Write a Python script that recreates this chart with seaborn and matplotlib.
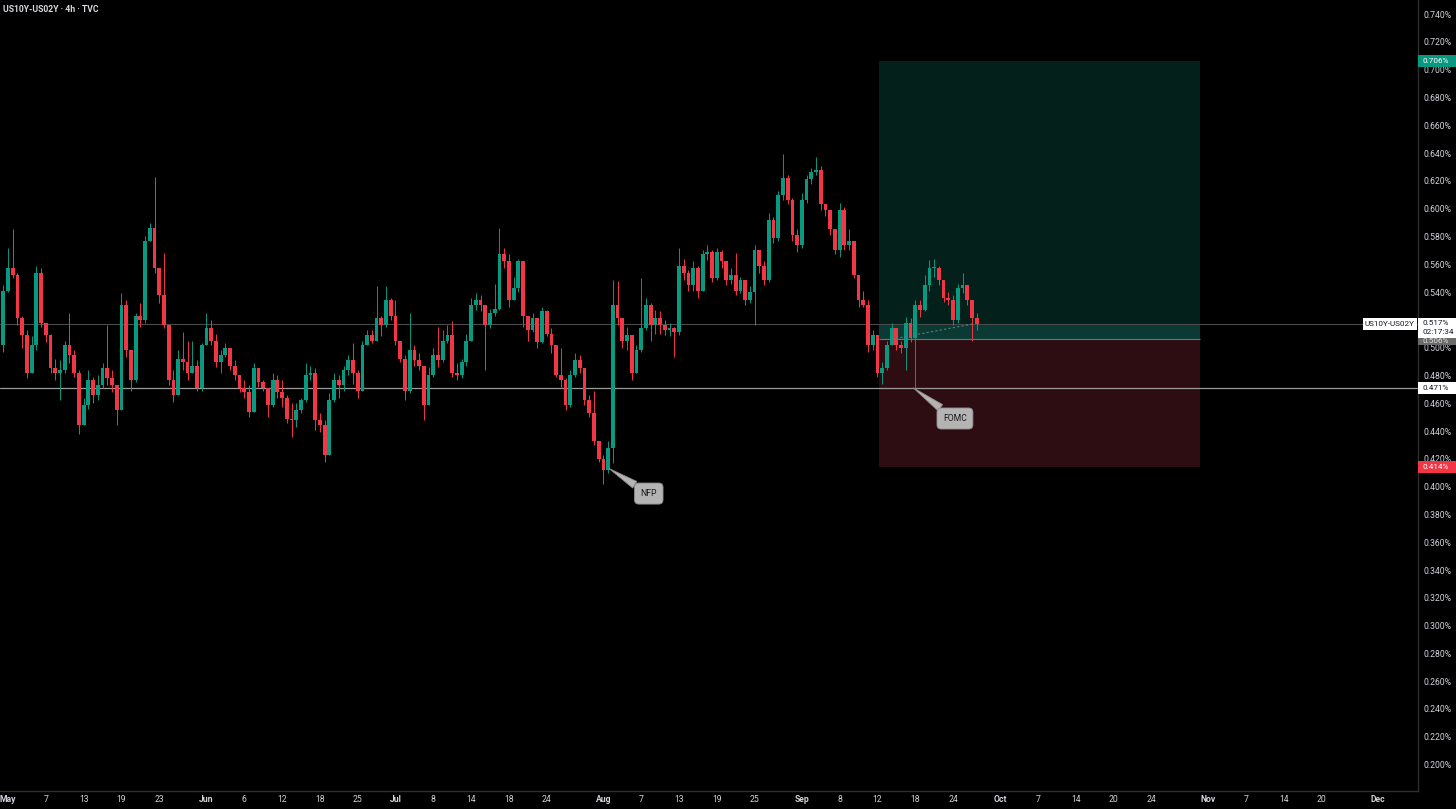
# plot.py
# ─────────────────────────────────────────────
# US10Y-US02Y spread, 4h candles (merged to half-day bars),
# drawn TradingView-style on a black background.
# ─────────────────────────────────────────────

import numpy as np
import pandas as pd
import matplotlib
matplotlib.use("Agg")                          # no display needed
import matplotlib.pyplot as plt
import matplotlib.transforms as mtransforms
from matplotlib.patches import Rectangle
import seaborn as sns

# ── 1. Data (thousandths of a percent) ──────────────────────────────────
first_open = 502
close_k = [541, 557, 552, 521, 509, 482, 502, 554, 518, 509,
           485, 482, 484, 502, 495, 482, 444, 459, 477, 466,
           473, 485, 478, 473, 455, 531, 498, 477, 523, 520,
           577, 586, 557, 538, 516, 477, 466, 492, 490, 482,
           487, 471, 502, 514, 505, 490, 495, 500, 487, 480,
           471, 468, 454, 485, 475, 471, 459, 477, 468, 464,
           449, 448, 455, 462, 480, 482, 448, 444, 423, 462,
           477, 473, 484, 491, 482, 469, 502, 509, 505, 521,
           516, 534, 523, 505, 492, 469, 498, 491, 487, 459,
           480, 495, 491, 505, 509, 482, 480, 490, 505, 531,
           534, 531, 516, 525, 528, 567, 562, 534, 543, 562,
           523, 513, 521, 504, 526, 510, 502, 480, 477, 459,
           480, 491, 485, 462, 453, 433, 420, 412, 428, 531,
           521, 505, 509, 482, 498, 514, 531, 516, 521, 516,
           513, 514, 511, 559, 554, 545, 557, 541, 567, 569,
           550, 569, 562, 549, 552, 541, 549, 534, 540, 570,
           559, 549, 592, 579, 610, 622, 606, 581, 574, 606,
           621, 626, 628, 603, 599, 585, 570, 599, 574, 577,
           552, 534, 531, 502, 509, 482, 485, 502, 514, 502,
           500, 518, 507, 531, 527, 545, 557, 557, 549, 536,
           534, 520, 543, 545, 534, 521, 517]
high_k = [545, 572, 585, 554, 523, 513, 508, 559, 557, 518,
          510, 492, 491, 505, 525, 498, 484, 464, 484, 479,
          480, 489, 516, 484, 466, 539, 534, 498, 525, 532,
          580, 590, 623, 557, 568, 516, 484, 498, 511, 505,
          505, 491, 503, 525, 520, 510, 498, 503, 496, 491,
          480, 477, 473, 489, 484, 477, 471, 482, 480, 477,
          466, 460, 460, 464, 489, 487, 485, 453, 448, 467,
          482, 480, 487, 495, 503, 484, 505, 513, 513, 544,
          523, 544, 536, 534, 505, 495, 525, 502, 496, 487,
          486, 500, 515, 513, 516, 519, 489, 492, 510, 536,
          539, 538, 531, 528, 546, 586, 572, 567, 551, 564,
          562, 523, 525, 521, 529, 527, 514, 502, 500, 478,
          484, 496, 495, 485, 466, 469, 433, 423, 433, 549,
          548, 521, 515, 509, 502, 550, 536, 532, 527, 526,
          520, 518, 515, 572, 564, 556, 562, 559, 570, 574,
          570, 572, 570, 562, 557, 568, 551, 549, 544, 574,
          569, 562, 597, 594, 613, 639, 624, 608, 585, 611,
          624, 629, 637, 631, 603, 599, 579, 604, 601, 585,
          577, 552, 541, 534, 513, 505, 490, 505, 518, 513,
          505, 522, 521, 534, 534, 552, 563, 564, 559, 549,
          540, 538, 546, 554, 545, 531, 525]
low_k = [497, 540, 550, 516, 500, 478, 484, 498, 515, 504,
         482, 477, 462, 482, 489, 479, 438, 444, 456, 460,
         462, 471, 473, 468, 444, 457, 493, 469, 475, 515,
         518, 577, 554, 532, 514, 473, 461, 466, 484, 477,
         482, 469, 469, 502, 502, 486, 482, 493, 484, 477,
         468, 464, 450, 454, 472, 469, 450, 457, 464, 457,
         446, 436, 443, 453, 461, 477, 441, 439, 418, 423,
         461, 464, 469, 480, 474, 464, 469, 502, 503, 505,
         508, 515, 520, 502, 490, 462, 467, 487, 484, 448,
         462, 479, 486, 490, 503, 479, 477, 478, 487, 505,
         527, 526, 484, 514, 523, 527, 557, 529, 538, 540,
         515, 505, 511, 500, 503, 508, 496, 479, 472, 455,
         457, 479, 482, 459, 450, 430, 418, 402, 410, 417,
         516, 500, 498, 477, 484, 497, 513, 505, 510, 510,
         509, 508, 493, 509, 549, 541, 541, 536, 550, 563,
         547, 549, 557, 545, 546, 538, 539, 531, 532, 516,
         554, 545, 547, 575, 577, 606, 603, 577, 569, 572,
         604, 618, 624, 599, 595, 581, 567, 565, 570, 570,
         550, 529, 529, 497, 498, 479, 474, 484, 502, 498,
         496, 484, 504, 471, 522, 526, 541, 551, 545, 533,
         531, 516, 518, 539, 531, 505, 513]

# x axis = trading-day index (May 1 = 0), labels as TradingView shows them
tick_days = [0, 4, 8, 12, 16, 21, 25, 29, 33, 37, 41, 45, 49, 53, 57,
             63, 67, 71, 75, 79, 84, 88, 92, 96, 100, 105, 109, 113, 117,
             121, 127, 131, 135, 139, 145]
tick_labels = ["May", "7", "13", "19", "23", "Jun", "6", "12", "18", "25",
               "Jul", "8", "14", "18", "24", "Aug", "7", "13", "19", "25",
               "Sep", "8", "12", "18", "24", "Oct", "7", "14", "20", "24",
               "Nov", "7", "14", "20", "Dec"]
# 0.520 sits under the last-price tag, so it is left out of the scale
y_ticks = [0.200, 0.220, 0.240, 0.260, 0.280, 0.300, 0.320, 0.340, 0.360,
           0.380, 0.400, 0.420, 0.440, 0.460, 0.480, 0.500, 0.540,
           0.560, 0.580, 0.600, 0.620, 0.640, 0.660, 0.680, 0.700, 0.720, 0.740]

last_price  = 0.517
hline_price = 0.471
entry, target, stop = 0.506, 0.706, 0.414
pos_start, pos_end  = 92.2, 126.1            # long-position box (trading days)
entry_day, last_day = 93.5, 102.1
callouts = [("NFP", 63.6, 0.413, 67.8, 0.395),
            ("FOMC", 95.8, 0.471, 100.2, 0.449)]

UP, DOWN = "#089981", "#f23645"
TXT = "#d1d4dc"
FS = 6.2
TAG_FS = 5.9

# ── 2. Build OHLC frame ─────────────────────────────────────────────────
df = pd.DataFrame({"close": np.array(close_k) / 1000,
                   "high":  np.array(high_k) / 1000,
                   "low":   np.array(low_k) / 1000})
df["open"] = df["close"].shift(1).fillna(first_open / 1000)
df["day"]  = np.arange(len(df)) * 0.5 - 0.5
df["high"] = df[["high", "open", "close"]].max(axis=1)
df["low"]  = df[["low", "open", "close"]].min(axis=1)
colors = np.where(df["close"] >= df["open"], UP, DOWN)

# ── 3. Figure ───────────────────────────────────────────────────────────
sns.set_theme(style="dark", rc={"axes.facecolor": "black",
                                "figure.facecolor": "black",
                                "axes.axisbelow": True})
plt.rcParams["font.family"] = ["Roboto", "DejaVu Sans"]

fig = plt.figure(figsize=(14.56, 8.09), dpi=100)
ax = fig.add_axes([0, 18 / 809, 1418 / 1456, 791 / 809])
ax.set_xlim(-0.85, 149.2)
ax.set_ylim(0.181, 0.7501)

# position tool
w = pos_end - pos_start
ax.add_patch(Rectangle((pos_start, entry), w, target - entry,
                       fc="#04201b", ec="none", zorder=1))
ax.add_patch(Rectangle((pos_start, stop), w, entry - stop,
                       fc="#2d0d11", ec="none", zorder=1))
ax.add_patch(Rectangle((pos_start, entry), w, last_price - entry,
                       fc="#0a3a33", ec="none", zorder=1.2))
ax.hlines(entry, pos_start, pos_end, color="#6f737c", lw=0.8, zorder=2)

# horizontal lines
ax.axhline(last_price, color="#4a4a4a", lw=0.8, zorder=2)
ax.axhline(hline_price, color="#9a9a9a", lw=0.9, zorder=2)

# candles
ax.vlines(df["day"], df["low"], df["high"], colors=colors, lw=0.7, zorder=3)
body = (df["close"] - df["open"]).abs().clip(lower=0.0008)
ax.bar(df["day"], body, bottom=df[["open", "close"]].min(axis=1),
       width=0.4, color=colors, linewidth=0, zorder=4)

# dashed entry -> last price
sns.lineplot(x=[entry_day, last_day], y=[entry, last_price], ax=ax,
             color="#5b7f79", lw=0.8, linestyle=(0, (2, 2)), zorder=5)

# callouts
for label, tx, ty, bx, by in callouts:
    ax.annotate(label, xy=(tx, ty), xytext=(bx, by), ha="center", va="center",
                fontsize=FS, color="#1a1a1a", zorder=7,
                bbox=dict(boxstyle="round,pad=0.7,rounding_size=0.5",
                          fc="#b4b4b4", ec="#8c8c8c", lw=0.6),
                arrowprops=dict(arrowstyle="wedge,tail_width=0.9",
                                fc="#b4b4b4", ec="#8c8c8c", lw=0.6,
                                shrinkA=0, shrinkB=0))

# ── 4. Axes styling ─────────────────────────────────────────────────────
for s in ["left", "top"]:
    ax.spines[s].set_visible(False)
for s in ["bottom", "right"]:
    ax.spines[s].set_color("#2e2e2e")
    ax.spines[s].set_linewidth(1.0)

ax.yaxis.tick_right()
ax.set_yticks(y_ticks)
ax.set_yticklabels([f"{v:.3f}%" for v in y_ticks])
ax.tick_params(axis="y", length=0, pad=4.3, labelsize=FS, labelcolor=TXT)

ax.set_xticks(tick_days)
ax.set_xticklabels(tick_labels)
ax.tick_params(axis="x", length=0, pad=3.0, labelsize=FS, labelcolor=TXT)
for t in ax.get_xticklabels():
    if not t.get_text().isdigit():
        t.set_fontweight("bold")
ax.grid(False)

# price tags on the right scale
trans = mtransforms.blended_transform_factory(ax.transAxes, ax.transData)
TAG_W, TAG_H = 0.0268, 0.0086


def tag(lo, hi, bg, x0=1.0, x1=1.0 + TAG_W):
    ax.add_patch(Rectangle((x0, lo), x1 - x0, hi - lo, transform=trans,
                           fc=bg, ec="none", clip_on=False, zorder=6))


def tag_text(y, text, fg, x=1.0035, ha="left"):
    return ax.text(x, y, text, transform=trans, ha=ha, va="center",
                   fontsize=TAG_FS, color=fg, clip_on=False, zorder=7)


# entry tag peeks out under the last-price block
tag(entry - TAG_H / 2, entry + TAG_H / 2, "#6b6b6b")
tag_text(entry - 0.0012, f"{entry:.3f}%", "#e0e0e0")
tag(0.5068, 0.5215, "#ffffff")
tag_text(last_price + 0.0006, f"{last_price:.3f}%", "#131722")
tag_text(0.5110, "02:17:34", "#131722")
tag(last_price - TAG_H / 2, last_price + TAG_H / 2, "#ffffff",
    x0=0.9612, x1=0.9993)
tag_text(last_price, "US10Y-US02Y", "#131722", x=0.9802, ha="center")

tag(target - TAG_H / 2, target + TAG_H / 2, UP)
tag_text(target, f"{target:.3f}%", "#ffffff")
tag(hline_price - TAG_H / 2, hline_price + TAG_H / 2, "#ffffff")
tag_text(hline_price, f"{hline_price:.3f}%", "#131722")
tag(stop - TAG_H / 2, stop + TAG_H / 2, DOWN)
tag_text(stop, f"{stop:.3f}%", "#ffffff")

# title
fig.text(3 / 1456, 1 - 10 / 809, "US10Y-US02Y · 4h · TVC", fontsize=FS,
         color="#d8dae0", fontweight="bold", ha="left", va="center")

fig.savefig("out.png", dpi=100, facecolor="black")
plt.close(fig)
